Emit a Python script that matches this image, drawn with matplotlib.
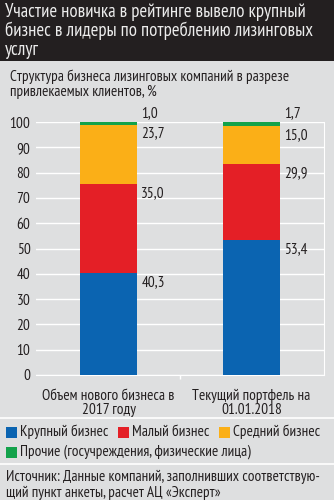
import matplotlib
matplotlib.use("Agg")
import matplotlib.pyplot as plt
from matplotlib.patches import Rectangle
from matplotlib.lines import Line2D

plt.rcParams['font.family'] = ['PT Sans Narrow', 'DejaVu Sans']

categories = ["Объем нового бизнеса в\n2017 году", "Текущий портфель на\n01.01.2018"]
series_names = ["Крупный бизнес", "Малый бизнес", "Средний бизнес",
                "Прочие (госучреждения, физические лица)"]
series_values = [
    [40.3, 53.4],
    [35.0, 29.9],
    [23.7, 15.0],
    [1.0, 1.7],
]
colors = ["#0b64b1", "#e41f26", "#fbaf17", "#13a24b"]
yticks = [0, 10, 20, 30, 40, 50, 60, 70, 80, 90, 100]

bg = "#dedfe0"
text_col = "#231f20"
fs = 11

fig = plt.figure(figsize=(3.34, 5.0), dpi=100, facecolor=bg)

# title band
fig.patches.append(Rectangle((0, 1 - 61 / 500), 1, 61 / 500, transform=fig.transFigure,
                             facecolor="#231f20", edgecolor="none", zorder=0))
fig.text(5 / 334, 1 - 3 / 500,
         "Участие новичка в рейтинге вывело крупный\nбизнес в лидеры по потреблению лизинговых\nуслуг",
         ha="left", va="top", fontsize=13.5, color="#ececec", linespacing=1.07)

fig.text(10 / 334, 1 - 69 / 500,
         "Структура бизнеса лизинговых компаний в разрезе\nпривлекаемых клиентов, %",
         ha="left", va="top", fontsize=fs, color=text_col, linespacing=1.1)

ax = fig.add_axes([36 / 334, 125 / 500, 288 / 334, 253 / 500])
ax.set_facecolor(bg)

x = [0, 1]
width = 0.4
bottoms = [0, 0]
for name, vals, col in zip(series_names, series_values, colors):
    ax.bar(x, vals, width, bottom=bottoms, color=col, label=name, zorder=3)
    tops = [b + v for b, v in zip(bottoms, vals)]
    for xi, top, v in zip(x, tops, vals):
        label = f"{v:.1f}".replace(".", ",")
        if name.startswith("Прочие"):
            dy = 6.5
        else:
            dy = -6.5
        ax.annotate(label, (xi + width / 2, top), xytext=(3, dy), textcoords="offset points",
                    ha="left", va="center", fontsize=fs, color=text_col)
    bottoms = tops

ax.set_xlim(-0.507, 1.507)
ax.set_ylim(0, 100)
ax.set_yticks(yticks)
ax.tick_params(axis="y", length=0, pad=4, labelsize=fs, labelcolor=text_col)
ax.set_xticks(x)
ax.set_xticklabels(categories, fontsize=fs, color=text_col, linespacing=1.0)
ax.tick_params(axis="x", length=0, pad=10)
ax.set_xticks([0.5], minor=True)
ax.tick_params(axis="x", which="minor", length=3, color="white", width=1)
ax.grid(axis="y", color="white", linewidth=1, zorder=0)
for side in ["top", "left"]:
    ax.spines[side].set_visible(False)
ax.spines["right"].set_color("white")
ax.spines["bottom"].set_color("white")

# separators
for yy in [418, 464]:
    fig.add_artist(Line2D([0, 1], [1 - yy / 500] * 2, transform=fig.transFigure,
                          color="white", linewidth=1.2))

# legend
legend_pos = [(6, 432), (118, 432), (219, 432), (6, 452)]
for (lx, ly), name, col in zip(legend_pos, series_names, colors):
    fig.patches.append(Rectangle((lx / 334, 1 - (ly + 6) / 500), 11 / 334, 11 / 500,
                                 transform=fig.transFigure, facecolor=col, edgecolor="none"))
    fig.text((lx + 14) / 334, 1 - ly / 500, name, ha="left", va="center",
             fontsize=fs, color=text_col)

fig.text(6 / 334, 1 - 470 / 500,
         "Источник: Данные компаний, заполнивших соответствую-\nщий пункт анкеты, расчет АЦ «Эксперт»",
         ha="left", va="top", fontsize=fs, color=text_col, linespacing=1.15)

fig.savefig("out.png", dpi=100, facecolor=bg)
